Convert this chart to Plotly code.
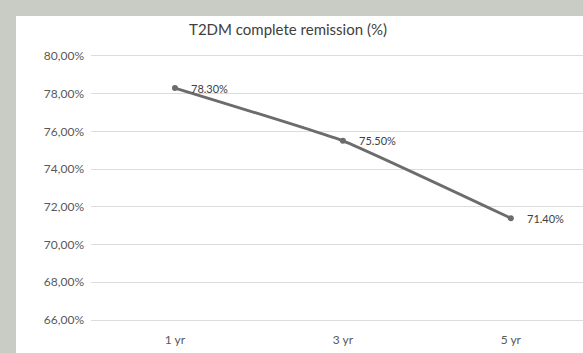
import plotly.graph_objects as go

# Remission rates over follow-up
years = ["1 yr", "3 yr", "5 yr"]
remission_pct = [78.30, 75.50, 71.40]

# Y-axis ticks (European decimal comma)
y_tick_vals = [66, 68, 70, 72, 74, 76, 78, 80]
y_tick_text = ["66,00%", "68,00%", "70,00%", "72,00%", "74,00%", "76,00%", "78,00%", "80,00%"]

FONT = "Lato"
LINE_COLOR = "#6c6c6c"
GRID_COLOR = "#dcdcdc"

fig = go.Figure()
fig.add_trace(go.Scatter(
    x=years,
    y=remission_pct,
    mode="lines+markers",
    line=dict(color=LINE_COLOR, width=2.8, shape="spline", smoothing=0.35),
    marker=dict(color=LINE_COLOR, size=6),
    hoverinfo="skip",
    showlegend=False,
))

# Value labels to the right of each point
for yr, v in zip(years, remission_pct):
    fig.add_annotation(
        x=yr, y=v, text=f"{v:.2f}%", showarrow=False,
        xanchor="left", yanchor="middle", xshift=14,
        font=dict(family=FONT, size=11, color="#404040"),
    )

# White chart panel on the grey surround
fig.add_shape(
    type="rect", xref="paper", yref="paper",
    x0=-0.1524, x1=1.01, y0=-0.13, y1=1.1515,
    fillcolor="white", line=dict(width=0), layer="below",
)

fig.update_layout(
    width=583, height=353,
    margin=dict(l=91, r=0, t=56, b=33),
    paper_bgcolor="#c9cbc5",
    plot_bgcolor="rgba(0,0,0,0)",
    title=dict(
        text="T2DM complete remission (%)",
        x=0.494, xanchor="center", y=0.915, yanchor="middle",
        font=dict(family=FONT, size=15, color="#404040"),
    ),
    xaxis=dict(
        type="category",
        range=[-0.5, 2.43],
        showgrid=False, zeroline=False,
        # bottom (66%) and top (80%) rules
        showline=True, mirror=True, linecolor=GRID_COLOR, linewidth=1,
        ticks="", ticklabelstandoff=9,
        tickfont=dict(family=FONT, size=12, color="#595959"),
    ),
    yaxis=dict(
        range=[66, 80],
        tickvals=y_tick_vals, ticktext=y_tick_text,
        showgrid=True, gridcolor=GRID_COLOR, gridwidth=1,
        zeroline=False, showline=False, ticks="",
        ticklabelstandoff=6,
        tickfont=dict(family=FONT, size=12, color="#595959"),
    ),
)

fig.write_html("out.html")
